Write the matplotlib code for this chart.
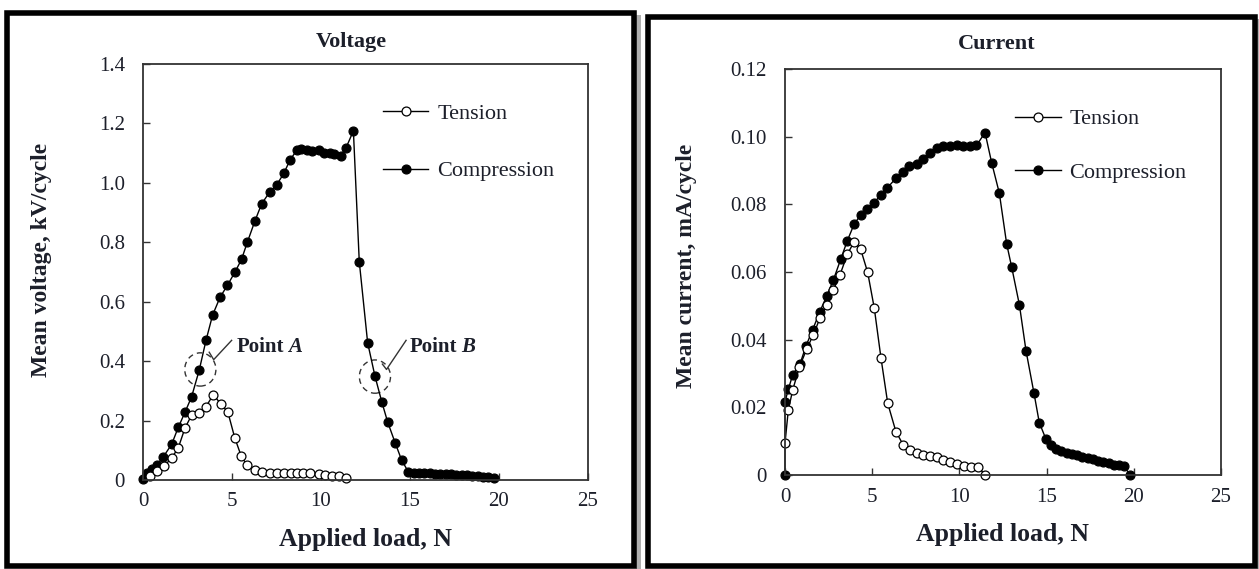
import numpy as np
import matplotlib
matplotlib.use("Agg")
import matplotlib.pyplot as plt
from matplotlib.patches import Ellipse, Rectangle

plt.rcParams['font.family'] = ['Liberation Serif', 'DejaVu Serif']

# Voltage panel
comp_v_x = [0, 0.2, 0.49, 0.77, 1.14, 1.61, 1.98, 2.36, 2.73, 3.16, 3.54, 3.91, 4.33, 4.74,
            5.17, 5.54, 5.86, 6.29, 6.67, 7.13, 7.51, 7.92, 8.26, 8.63, 8.9, 9.2, 9.5, 9.87,
            10.15, 10.5, 10.75, 11.1, 11.4, 11.82, 12.15, 12.62, 13.03, 13.41, 13.74, 14.16,
            14.53, 14.9, 15.2, 15.5, 15.8, 16.1, 16.4, 16.7, 17.0, 17.3, 17.6, 17.9, 18.2,
            18.5, 18.8, 19.1, 19.4, 19.7]
comp_v_y = [0.005, 0.022, 0.036, 0.05, 0.078, 0.12, 0.177, 0.228, 0.28, 0.37, 0.47, 0.555,
            0.615, 0.655, 0.70, 0.743, 0.80, 0.872, 0.93, 0.97, 0.993, 1.033, 1.077, 1.109,
            1.113, 1.109, 1.106, 1.109, 1.102, 1.102, 1.098, 1.092, 1.117, 1.175, 0.735,
            0.462, 0.35, 0.264, 0.196, 0.126, 0.067, 0.028, 0.024, 0.023, 0.022, 0.022,
            0.021, 0.02, 0.02, 0.019, 0.018, 0.017, 0.016, 0.014, 0.013, 0.011, 0.009, 0.006]
ten_v_x = [0.37, 0.77, 1.2, 1.61, 1.98, 2.36, 2.73, 3.16, 3.54, 3.95, 4.36, 4.77, 5.15,
           5.52, 5.86, 6.27, 6.67, 7.13, 7.51, 7.92, 8.3, 8.63, 8.97, 9.4, 9.87, 10.2, 10.6,
           11.0, 11.4]
ten_v_y = [0.015, 0.03, 0.048, 0.074, 0.108, 0.175, 0.218, 0.226, 0.247, 0.287, 0.257,
           0.228, 0.143, 0.08, 0.049, 0.032, 0.026, 0.025, 0.025, 0.025, 0.025, 0.025,
           0.024, 0.022, 0.02, 0.016, 0.013, 0.013, 0.006]

# Current panel
comp_i_x = [0, 0, 0.19, 0.44, 0.86, 1.2, 1.59, 2.0, 2.39, 2.77, 3.19, 3.57, 3.96, 4.34,
            4.72, 5.12, 5.48, 5.87, 6.36, 6.75, 7.13, 7.55, 7.93, 8.31, 8.7, 9.08, 9.46,
            9.84, 10.22, 10.6, 10.98, 11.47, 11.85, 12.29, 12.71, 13.0, 13.44, 13.82, 14.28,
            14.58, 14.97, 15.25, 15.55, 15.85, 16.15, 16.45, 16.75, 17.05, 17.35, 17.65,
            17.95, 18.25, 18.55, 18.85, 19.15, 19.45, 19.78]
comp_i_y = [0, 0.0217, 0.0253, 0.0296, 0.0328, 0.0381, 0.043, 0.0483, 0.0529, 0.0576,
            0.0637, 0.0692, 0.0741, 0.0769, 0.0785, 0.0805, 0.0828, 0.0849, 0.0877, 0.0896,
            0.0913, 0.0919, 0.0933, 0.0951, 0.0966, 0.0973, 0.0973, 0.0974, 0.0972, 0.0973,
            0.0974, 0.1012, 0.0923, 0.0833, 0.0683, 0.0614, 0.0503, 0.0367, 0.0241, 0.0155,
            0.0105, 0.0088, 0.0078, 0.0072, 0.0066, 0.0062, 0.0058, 0.0054, 0.005, 0.0046,
            0.0042, 0.0038, 0.0034, 0.0031, 0.0029, 0.0026, 0.0]
ten_i_x = [0, 0.19, 0.44, 0.82, 1.24, 1.62, 2.0, 2.39, 2.77, 3.15, 3.57, 3.97, 4.34, 4.74,
           5.12, 5.5, 5.89, 6.36, 6.78, 7.17, 7.55, 7.93, 8.31, 8.7, 9.08, 9.46, 9.88,
           10.26, 10.66, 11.08, 11.47]
ten_i_y = [0.0094, 0.0192, 0.0251, 0.0318, 0.0372, 0.0414, 0.0463, 0.0503, 0.0547, 0.0591,
           0.0652, 0.069, 0.0667, 0.0599, 0.0493, 0.0347, 0.0212, 0.0128, 0.0089, 0.0074,
           0.0064, 0.006, 0.0057, 0.0052, 0.0044, 0.0037, 0.0033, 0.0027, 0.0025, 0.0023,
           0.0001]

x_ticks = [0, 5, 10, 15, 20, 25]
v_ticks = [0, 0.2, 0.4, 0.6, 0.8, 1.0, 1.2, 1.4]
v_labels = ['0', '0.2', '0.4', '0.6', '0.8', '1.0', '1.2', '1.4']
i_ticks = [0, 0.02, 0.04, 0.06, 0.08, 0.10, 0.12]
i_labels = ['0', '0.02', '0.04', '0.06', '0.08', '0.10', '0.12']

W, H = 1259, 569
fig = plt.figure(figsize=(W / 100, H / 100), dpi=100)
fig.patch.set_facecolor('white')

# panel frames, with a grey shadow strip to the right of each
for x0, w, h in [(7, 627, 553), (648, 607, 549)]:
    fig.patches.append(Rectangle(((x0 + w + 2) / W, 0), 5 / W, (h + 1) / H,
                                 transform=fig.transFigure, fc='#b0b0b0', ec='none', zorder=0))
    fig.patches.append(Rectangle((x0 / W, 3 / H), w / W, h / H, transform=fig.transFigure,
                                 fill=False, lw=4, ec='black', zorder=1))

ax1 = fig.add_axes([143 / W, (H - 480) / H, 445 / W, 416 / H])
ax2 = fig.add_axes([785 / W, (H - 475) / H, 436 / W, 406 / H])

txt = '#1c1f2a'
mk = dict(ms=6.4, lw=1.0, color='black', mew=0.9, clip_on=False)


def style_axes(ax, yticks, ylabels, ylim, ylabel):
    ax.set_xlim(0, 25)
    ax.set_ylim(*ylim)
    ax.set_xticks(x_ticks)
    ax.set_xticklabels([str(t) for t in x_ticks])
    ax.set_yticks(yticks)
    ax.set_yticklabels(ylabels)
    ax.tick_params(direction='in', length=5, width=1.0, labelsize=15, colors='#333333',
                   labelcolor=txt)
    ax.tick_params(axis='y', pad=13)
    ax.tick_params(axis='x', pad=9)
    for s in ax.spines.values():
        s.set_linewidth(1.3)
        s.set_color('#333333')
    ax.set_xlabel('Applied load, N', fontsize=18.5, fontweight='bold', color=txt)
    ax.set_ylabel(ylabel, fontsize=17, fontweight='bold', color=txt)


# Voltage
ax1.plot(comp_v_x, comp_v_y, marker='o', mfc='black', label='Compression', **mk)
ax1.plot(ten_v_x, ten_v_y, marker='o', mfc='white', label='Tension', **mk)
style_axes(ax1, v_ticks, v_labels, (0, 1.4), 'Mean voltage, kV/cycle')
ax1.xaxis.set_label_coords(0.5, -0.115)
ax1.yaxis.set_label_coords(-0.205, 0.53)

h, l = ax1.get_legend_handles_labels()
ax1.legend(h[::-1], l[::-1], loc='upper left', bbox_to_anchor=(0.539, 0.905), frameon=False,
           fontsize=16, handlelength=2.05, handletextpad=0.4, labelspacing=1.65,
           borderpad=0, borderaxespad=0, labelcolor=txt)

# Point A / Point B markers
for (cx, cy), path, lab, tx in [((3.22, 0.372), [(3.72, 0.43), (3.97, 0.405), (4.98, 0.47)], 'A', 5.25),
                                 ((13.03, 0.348), [(13.45, 0.39), (13.68, 0.372), (14.78, 0.47)], 'B', 15.0)]:
    ax1.add_patch(Ellipse((cx, cy), 1.75, 0.112, fill=False, ls=(0, (4, 3)), lw=1.0,
                          ec='#333333'))
    px, py = zip(*path)
    ax1.plot(px, py, color='#333333', lw=1.0)
    t = ax1.text(tx, 0.449, 'Point', fontsize=15, fontweight='bold', va='center', ha='left',
                 color=txt)
    ax1.annotate(lab, xy=(1, 0.5), xycoords=t, xytext=(3, 0), textcoords='offset points',
                 fontsize=15, fontweight='bold', style='italic', va='center', ha='left',
                 color=txt)

# Current
ax2.plot(comp_i_x, comp_i_y, marker='o', mfc='black', label='Compression', **mk)
ax2.plot(ten_i_x, ten_i_y, marker='o', mfc='white', label='Tension', **mk)
style_axes(ax2, i_ticks, i_labels, (0, 0.12), 'Mean current, mA/cycle')
ax2.xaxis.set_label_coords(0.5, -0.118)
ax2.yaxis.set_label_coords(-0.202, 0.515)

h, l = ax2.get_legend_handles_labels()
ax2.legend(h[::-1], l[::-1], loc='upper left', bbox_to_anchor=(0.5275, 0.902), frameon=False,
           fontsize=16, handlelength=2.05, handletextpad=0.4, labelspacing=1.5,
           borderpad=0, borderaxespad=0, labelcolor=txt)

fig.text(351 / W, (H - 42) / H, 'Voltage', ha='center', va='center', fontsize=16,
         fontweight='bold', color=txt)
fig.text(997 / W, (H - 44) / H, 'Current', ha='center', va='center', fontsize=16,
         fontweight='bold', color=txt)

fig.savefig('out.png', dpi=100)
